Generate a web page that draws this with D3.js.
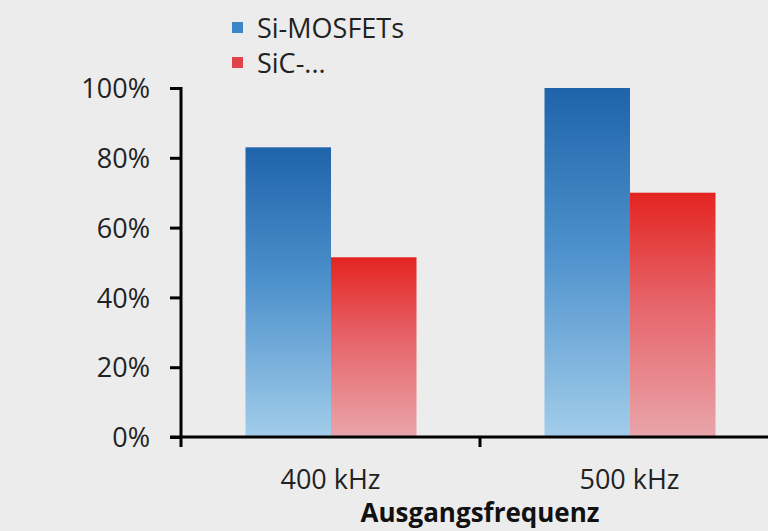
<!DOCTYPE html>
<html>
<head>
<meta charset="utf-8">
<script src="https://cdn.jsdelivr.net/npm/d3@7"></script>
<style>
  html, body { margin: 0; padding: 0; background: #ececec; }
  svg { display: block; }
  svg text { font-family: "Open Sans", sans-serif; }
</style>
</head>
<body>
<svg width="768" height="531"></svg>
<script>
// данные графика
const categories = ["400 kHz", "500 kHz"];
const seriesNames = ["Si-MOSFETs", "SiC-..."];
const siValues = [0.83, 1.00];
const sicValues = [0.515, 0.70];
const yTicks = [0, 0.2, 0.4, 0.6, 0.8, 1.0];
const axisTitle = "Ausgangsfrequenz";

const svg = d3.select("svg");

const attr_area = {
    width: 768,
    height: 531,
    left: 181,
    right: 779,
    top: 88,
    bottom: 437
};

// градиенты для столбцов
const defs = svg.append("defs");
function addGradient(id, stops) {
    const g = defs.append("linearGradient")
        .attr("id", id)
        .attr("x1", 0).attr("y1", 0)
        .attr("x2", 0).attr("y2", 1);
    stops.forEach(s => g.append("stop")
        .attr("offset", s[0])
        .attr("stop-color", s[1]));
}
addGradient("gradBlue", [[0, "#1f64aa"], [0.45, "#4b8fcb"], [1, "#a2cdea"]]);
addGradient("gradRed", [[0, "#e32420"], [0.45, "#e6646a"], [1, "#e9a5aa"]]);

const colors = ["url(#gradBlue)", "url(#gradRed)"];
const legendColors = ["#3a86c6", "#e0434a"];

// шкалы
const scaleX = d3.scaleBand()
    .domain(categories)
    .range([attr_area.left, attr_area.right]);

const scaleInner = d3.scaleBand()
    .domain(seriesNames)
    .range([scaleX.bandwidth() / 2 - 85, scaleX.bandwidth() / 2 + 86]);

const scaleY = d3.scaleLinear()
    .domain([0, 1])
    .range([attr_area.bottom, attr_area.top]);

// столбцы
const rows = categories.map((c, i) => ({ cat: c, values: [siValues[i], sicValues[i]] }));

const groups = svg.selectAll(".group")
    .data(rows)
    .enter()
    .append("g")
    .attr("transform", d => `translate(${scaleX(d.cat)}, 0)`);

groups.selectAll("rect")
    .data(d => d.values.map((v, j) => ({ name: seriesNames[j], value: v, j: j })))
    .enter()
    .append("rect")
    .attr("x", d => scaleInner(d.name))
    .attr("y", d => scaleY(d.value))
    .attr("width", scaleInner.bandwidth())
    .attr("height", d => scaleY(0) - scaleY(d.value))
    .style("fill", d => colors[d.j]);

// ось Y
const axisY = d3.axisLeft(scaleY)
    .tickValues(yTicks)
    .tickFormat(d3.format(".0%"))
    .tickSize(11)
    .tickPadding(20);

const gY = svg.append("g")
    .attr("transform", `translate(${attr_area.left}, 0)`)
    .call(axisY)
    .attr("font-family", null);
gY.select(".domain").remove();
gY.append("line")
    .attr("x1", 0).attr("x2", 0)
    .attr("y1", scaleY(1) - 1).attr("y2", scaleY(0) + 10)
    .attr("stroke", "#000").attr("stroke-width", 3);
gY.selectAll(".tick line").attr("stroke", "#000").attr("stroke-width", 3);
gY.selectAll(".tick text")
    .attr("fill", "#222")
    .style("font-family", "'Open Sans', sans-serif")
    .style("font-size", "27px")
    .attr("dy", "0.36em");

// ось X
const gX = svg.append("g")
    .attr("transform", `translate(0, ${attr_area.bottom})`);
gX.append("line")
    .attr("x1", attr_area.left - 11).attr("x2", attr_area.right)
    .attr("y1", 0).attr("y2", 0)
    .attr("stroke", "#000").attr("stroke-width", 3);
gX.selectAll(".xtick")
    .data(categories.slice(1))
    .enter()
    .append("line")
    .attr("x1", d => scaleX(d)).attr("x2", d => scaleX(d))
    .attr("y1", 0).attr("y2", 10)
    .attr("stroke", "#000").attr("stroke-width", 3);
gX.selectAll(".xlabel")
    .data(categories)
    .enter()
    .append("text")
    .attr("x", d => scaleX(d) + scaleX.bandwidth() / 2)
    .attr("y", 52)
    .attr("text-anchor", "middle")
    .attr("fill", "#222")
    .style("font-size", "27px")
    .text(d => d);

svg.append("text")
    .attr("x", scaleX(categories[1]))
    .attr("y", 522)
    .attr("text-anchor", "middle")
    .attr("fill", "#111")
    .style("font-size", "26px")
    .style("font-weight", "bold")
    .text(axisTitle);

// легенда
const legend = svg.selectAll(".legend")
    .data(seriesNames)
    .enter()
    .append("g")
    .attr("transform", (d, i) => `translate(232, ${22 + i * 35})`);
legend.append("rect")
    .attr("width", 11).attr("height", 11)
    .style("fill", (d, i) => legendColors[i]);
legend.append("text")
    .attr("x", 25)
    .attr("y", 16)
    .attr("fill", "#222")
    .style("font-size", "27px")
    .text(d => d);
</script>
</body>
</html>
